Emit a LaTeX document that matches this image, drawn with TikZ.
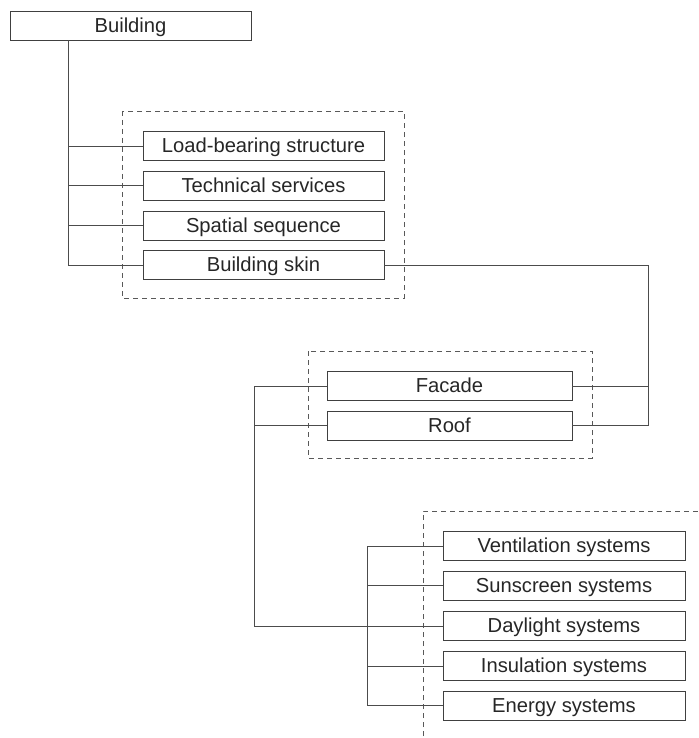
\documentclass[tikz,border=0pt]{standalone}
\usepackage{fontspec}
\setmainfont{Liberation Sans}
\begin{document}
\begin{tikzpicture}[x=1pt,y=-1pt,
  every node/.style={font=\fontsize{20.2}{22}\selectfont, text=black!85},
  item/.style={draw=black!75, line width=0.9pt, minimum height=29pt, inner sep=0pt,
    text height=15pt, text depth=1.5pt, anchor=center},
  link/.style={draw=black!70, line width=0.9pt},
  group/.style={draw=black!65, line width=0.8pt, dash pattern=on 5pt off 4pt}]
\useasboundingbox (0,0) rectangle (698,738);
\clip (0,0) rectangle (698,738);

% top level
\node[item, minimum width=241pt] (bld) at (130.5,25.5) {Building};

% first level groups
\draw[group] (122,111) rectangle (404,298);
\node[item, minimum width=241pt] (lbs) at (263.5,146) {Load-bearing structure};
\node[item, minimum width=241pt] (tsv) at (263.5,185.5) {Technical services};
\node[item, minimum width=241pt] (ssq) at (263.5,225.5) {Spatial sequence};
\node[item, minimum width=241pt] (skin) at (263.5,265) {Building skin};

\coordinate (t1) at (68,40);
\draw[link] (bld.south -| t1) -- (t1 |- skin.west) -- (skin.west);
\draw[link] (t1 |- lbs.west) -- (lbs.west);
\draw[link] (t1 |- tsv.west) -- (tsv.west);
\draw[link] (t1 |- ssq.west) -- (ssq.west);

% building skin
\draw[group] (308,351) rectangle (592,458);
\node[item, minimum width=245pt] (fac) at (449.5,386) {Facade};
\node[item, minimum width=245pt] (roof) at (449.5,425.5) {Roof};

\coordinate (r1) at (648,265);
\draw[link] (skin.east) -- (r1) -- (r1 |- roof.east) -- (roof.east);
\draw[link] (r1 |- fac.east) -- (fac.east);

% facade systems
\draw[group] (423,745) -- (423,511) -- (705,511);
\node[item, minimum width=242pt] (ven) at (564,546) {Ventilation systems};
\node[item, minimum width=242pt] (sun) at (564,585.5) {Sunscreen systems};
\node[item, minimum width=242pt] (day) at (564,626) {Daylight systems};
\node[item, minimum width=242pt] (ins) at (564,666) {Insulation systems};
\node[item, minimum width=242pt] (eng) at (564,705.5) {Energy systems};

\coordinate (t2) at (254,386);
\draw[link] (fac.west) -- (t2) -- (t2 |- day.west) -- (day.west);
\draw[link] (t2 |- roof.west) -- (roof.west);

\coordinate (t3) at (367,546);
\draw[link] (ven.west) -- (t3) -- (t3 |- eng.west) -- (eng.west);
\draw[link] (t3 |- sun.west) -- (sun.west);
\draw[link] (t3 |- ins.west) -- (ins.west);
\end{tikzpicture}
\end{document}
